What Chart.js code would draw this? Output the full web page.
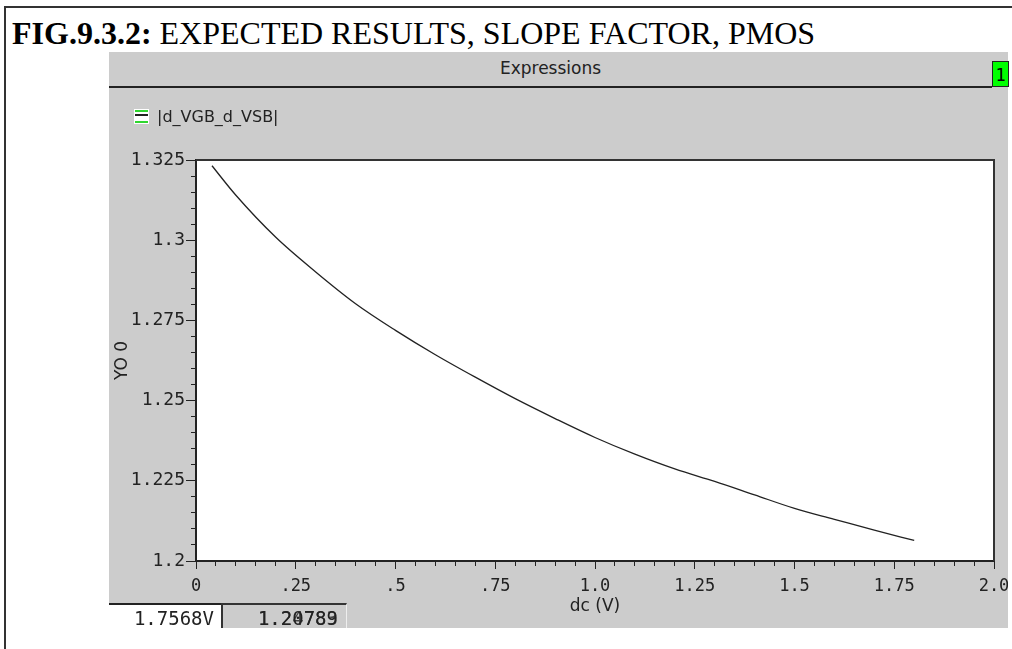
<!DOCTYPE html>
<html>
<head>
<meta charset="utf-8">
<script src="https://cdn.jsdelivr.net/npm/chart.js@4/dist/chart.umd.min.js"></script>
<style>
  body { margin: 0; background: #fff; width: 1012px; height: 649px; position: relative; overflow: hidden; }
  #frame { position: absolute; left: 4px; top: 6px; width: 1010px; height: 650px; border-left: 2px solid #333; border-top: 2px solid #333; }
  #title { position: absolute; left: 12px; top: 15px; font-family: "Liberation Serif", serif; font-size: 32px; color: #000; white-space: nowrap; }
  #panel { position: absolute; left: 109px; top: 52px; width: 899px; height: 576px; background: #cccccc; }
  #head { position: absolute; left: 0; top: 0; width: 883px; height: 34px; border-bottom: 2px solid #222; text-align: center; font-family: "DejaVu Sans", sans-serif; font-size: 17px; line-height: 32px; color: #222; }
  #tag { position: absolute; left: 883px; top: 9px; width: 15px; height: 24px; background: #00ff00; border: 1px solid #222; font-family: "DejaVu Sans Mono", monospace; font-size: 17px; line-height: 26px; text-align: center; color: #000; }
  #plot { position: absolute; left: 0; top: 35px; }
  #key { position: absolute; left: 25px; top: 57px; width: 15px; height: 15px; background: #fff; }
  #key i { position: absolute; left: 1px; width: 13px; height: 2px; }
  #keytext { position: absolute; left: 48px; top: 55px; font-family: "DejaVu Sans", sans-serif; font-size: 16px; color: #222; }
  .read { position: absolute; top: 551px; height: 25px; font-family: "DejaVu Sans Mono", monospace; font-size: 19px; line-height: 26px; text-align: right; color: #222; box-sizing: border-box; }
  #rx { left: 0; width: 112px; background: #fff; border-top: 2px solid #222; padding-right: 7px; }
  #ry { left: 112px; width: 126px; background: #cccccc; border-top: 2px solid #333; border-left: 2px solid #333; border-right: 1px solid #eee; padding-right: 8px; }
  #ry span { position: absolute; right: 8px; top: 0; }
</style>
</head>
<body>
<div id="frame"></div>
<div id="title"><b>FIG.9.3.2:</b> EXPECTED RESULTS, SLOPE FACTOR, PMOS</div>
<div id="panel">
  <div id="head">Expressions</div>
  <div id="tag">1</div>
  <canvas id="plot" width="899" height="541"></canvas>
  <div id="key"><i style="top:1px;background:#2fd62f"></i><i style="top:5px;background:#222"></i><i style="top:12px;background:#2fd62f"></i></div>
  <div id="keytext">|d_VGB_d_VSB|</div>
  <div class="read" id="rx">1.7568V</div>
  <div class="read" id="ry"><span>1.20789</span><span style="opacity:.8">1.24783</span></div>
</div>
<script>
// dc sweep (V) and |dVGB/dVSB|
var dcVolts = [0.04, 0.1, 0.2, 0.3, 0.4, 0.5, 0.6, 0.7, 0.8, 0.9, 1.0, 1.1, 1.2, 1.3, 1.4, 1.5, 1.6, 1.7, 1.8];
var slopeFactor = [1.3232, 1.3140, 1.3009, 1.2901, 1.2802, 1.2719, 1.2643, 1.2573, 1.2506, 1.2444, 1.2385, 1.2333, 1.2287, 1.2248, 1.2206, 1.2164, 1.2130, 1.2096, 1.2064];

// major tick labels, minor ticks fall in between
var xTickLabels = ['0', '.25', '.5', '.75', '1.0', '1.25', '1.5', '1.75', '2.0'];
var yTickLabels = ['1.2', '1.225', '1.25', '1.275', '1.3', '1.325'];

var points = dcVolts.map(function(v, i) { return {x: v, y: slopeFactor[i]}; });

var ink = '#222';

// top and right edges of the plot box
var boxEdges = {
    id: 'boxEdges',
    afterDraw: function(chart) {
        var a = chart.chartArea, c = chart.ctx;
        c.save();
        c.strokeStyle = '#333';
        c.lineWidth = 2;
        c.beginPath();
        c.moveTo(a.left, a.top);
        c.lineTo(a.right, a.top);
        c.lineTo(a.right, a.bottom);
        c.stroke();
        c.restore();
    }
};

var areaWhite = {
    id: 'areaWhite',
    beforeDraw: function(chart) {
        var a = chart.chartArea;
        chart.ctx.fillStyle = '#fff';
        chart.ctx.fillRect(a.left, a.top, a.right - a.left, a.bottom - a.top);
    }
};

new Chart(document.getElementById('plot').getContext('2d'), {
    type: 'line',
    data: {
        datasets: [{
            label: '|d_VGB_d_VSB|',
            data: points,
            borderColor: ink,
            borderWidth: 1.3,
            pointRadius: 0,
            fill: false,
            cubicInterpolationMode: 'monotone'
        }]
    },
    options: {
        responsive: false,
        animation: false,
        layout: {padding: {top: 73, right: 14, left: 0, bottom: 0}},
        plugins: {legend: {display: false}, tooltip: {enabled: false}},
        scales: {
            x: {
                type: 'linear',
                min: 0,
                max: 2,
                afterFit: function(s) { s.height = 67; s.paddingLeft = 0; s.paddingRight = 0; },
                ticks: {
                    stepSize: 0.05,
                    autoSkip: false,
                    maxRotation: 0,
                    padding: 7,
                    color: ink,
                    font: {family: 'DejaVu Sans Mono', size: 17},
                    callback: function(v, i) { return i % 5 ? '' : xTickLabels[i / 5]; }
                },
                grid: {
                    drawOnChartArea: false,
                    tickLength: 8,
                    tickColor: ink,
                    tickWidth: 1,
                    tickBorderDash: function(ctx) { return ctx.index % 5 ? [4, 20] : []; }
                },
                border: {color: ink, width: 2},
                title: {display: true, text: 'dc (V)', color: ink, font: {family: 'DejaVu Sans', size: 17}, padding: {top: 0, bottom: 11}}
            },
            y: {
                min: 1.2,
                max: 1.325,
                afterFit: function(s) { s.width = 87; s.paddingTop = 0; s.paddingBottom = 0; },
                ticks: {
                    stepSize: 0.005,
                    autoSkip: false,
                    padding: 1,
                    color: ink,
                    font: {family: 'DejaVu Sans Mono', size: 18},
                    callback: function(v, i) { return i % 5 ? '' : yTickLabels[i / 5]; }
                },
                grid: {
                    drawOnChartArea: false,
                    tickLength: 10,
                    tickColor: ink,
                    tickWidth: 1,
                    // minor ticks: only the half next to the axis
                    tickBorderDash: function(ctx) { return ctx.index % 5 ? [0, 5, 6, 40] : []; }
                },
                border: {color: ink, width: 2},
                title: {display: true, text: 'YO 0', color: ink, font: {family: 'DejaVu Sans', size: 17}, padding: {top: 3, bottom: 0}}
            }
        }
    },
    plugins: [areaWhite, boxEdges]
});
</script>
</body>
</html>
